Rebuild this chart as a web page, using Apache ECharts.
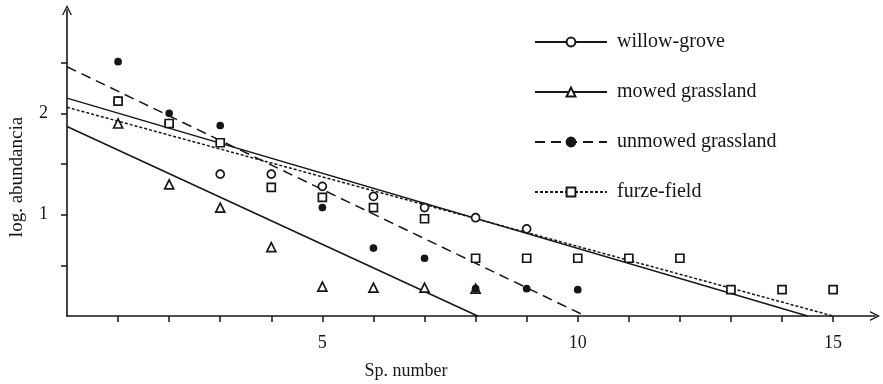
<!DOCTYPE html>
<html>
<head>
<meta charset="utf-8">
<script src="https://cdn.jsdelivr.net/npm/echarts@6/dist/echarts.min.js"></script>
<style>
html, body { margin: 0; padding: 0; background: #fff; }
#chart { width: 883px; height: 384px; }
</style>
</head>
<body>
<div id="chart"></div>
<script>
// species rank (x) and log abundance (y) per site
const willowX = [1, 2, 3, 4, 5, 6, 7, 8, 9];
const willowY = [2.12, 1.9, 1.4, 1.4, 1.28, 1.18, 1.07, 0.97, 0.86];

const mowedX = [1, 2, 3, 4, 5, 6, 7, 8];
const mowedY = [1.9, 1.3, 1.07, 0.68, 0.29, 0.28, 0.28, 0.27];

const unmowedX = [1, 2, 3, 4, 5, 6, 7, 8, 9, 10];
const unmowedY = [2.51, 2.0, 1.88, 1.27, 1.07, 0.67, 0.57, 0.27, 0.27, 0.26];

const furzeX = [1, 2, 3, 4, 5, 6, 7, 8, 9, 10, 11, 12, 13, 14, 15];
const furzeY = [2.12, 1.9, 1.71, 1.27, 1.17, 1.07, 0.96, 0.57, 0.57, 0.57, 0.57, 0.57, 0.26, 0.26, 0.26];

// fitted regression lines (start at x = 0, end on the x axis)
const willowFit = [[0, 2.15], [14.5, 0]];
const mowedFit = [[0, 1.87], [8.04, 0]];
const unmowedFit = [[0, 2.46], [10.15, 0]];
const furzeFit = [[0, 2.06], [15.0, 0]];

const names = ['willow-grove', 'mowed grassland', 'unmowed grassland', 'furze-field'];
const xTicks = [1, 2, 3, 4, 5, 6, 7, 8, 9, 10, 11, 12, 13, 14, 15];
const xLabels = [5, 10, 15];
const yTicks = [0.5, 1, 1.5, 2, 2.5];
const yLabels = [1, 2];

const zip = (xs, ys) => xs.map((x, i) => [x, ys[i]]);
const ink = '#161616';
const serif = 'Liberation Serif';
const chevron = 'path://M5,0 L10,10 L8.6,10 L5,2.8 L1.4,10 L0,10 Z';

function fitLine(name, data, type, symbol, fill) {
  return {
    name: name,
    type: 'line',
    data: data,
    symbol: symbol,
    showSymbol: false,
    silent: true,
    itemStyle: { color: fill, borderColor: ink, borderWidth: 1.5, opacity: 1 },
    lineStyle: { color: ink, width: 1.5, type: type },
    z: 2
  };
}

function points(name, data, symbol, fill, size) {
  return {
    name: name,
    type: 'scatter',
    data: data,
    symbol: symbol,
    symbolSize: size,
    itemStyle: { color: fill, borderColor: ink, borderWidth: 1.7, opacity: 1 },
    z: 3
  };
}

const chart = echarts.init(document.getElementById('chart'));
chart.setOption({
  backgroundColor: '#fff',
  animation: false,
  grid: { left: 67, right: 8, top: 10, bottom: 68, outerBoundsMode: 'none' },
  legend: {
    data: names,
    orient: 'vertical',
    left: 534,
    top: 32,
    padding: 0,
    itemWidth: 72,
    itemHeight: 11,
    itemGap: 30,
    textStyle: { fontFamily: serif, fontSize: 20, color: ink, padding: [0, 0, 0, 5] }
  },
  xAxis: {
    type: 'value',
    min: 0,
    max: 15.82,
    name: 'Sp. number',
    nameLocation: 'middle',
    nameGap: 46,
    nameTextStyle: { fontFamily: serif, fontSize: 18, color: ink, padding: [0, 130, 0, 0] },
    axisLine: {
      lineStyle: { color: ink, width: 1.6 },
      symbol: ['none', chevron],
      symbolSize: [10, 10]
    },
    axisTick: { customValues: xTicks, length: 6, lineStyle: { color: ink, width: 1.5 } },
    axisLabel: { customValues: xLabels, fontFamily: serif, fontSize: 18, color: ink, margin: 18 },
    splitLine: { show: false }
  },
  yAxis: {
    type: 'value',
    min: 0,
    max: 3.02,
    name: 'log. abundancia',
    nameLocation: 'middle',
    nameGap: 40,
    nameRotate: 90,
    nameTextStyle: { fontFamily: serif, fontSize: 19, color: ink, padding: [0, 28, 0, 0] },
    axisLine: {
      show: true,
      lineStyle: { color: ink, width: 1.6 },
      symbol: ['none', chevron],
      symbolSize: [10, 10]
    },
    axisTick: { show: true, customValues: yTicks, length: 6, lineStyle: { color: ink, width: 1.5 } },
    axisLabel: { customValues: yLabels, fontFamily: serif, fontSize: 18, color: ink, margin: 19 },
    splitLine: { show: false }
  },
  series: [
    fitLine(names[0], willowFit, 'solid', 'circle', '#fff'),
    fitLine(names[1], mowedFit, 'solid', 'triangle', '#fff'),
    fitLine(names[2], unmowedFit, [10, 6], 'circle', ink),
    fitLine(names[3], furzeFit, [3, 2], 'rect', '#fff'),
    points(names[0], zip(willowX, willowY), 'circle', '#fff', 8),
    points(names[1], zip(mowedX, mowedY), 'triangle', '#fff', 9),
    points(names[2], zip(unmowedX, unmowedY), 'circle', ink, 6),
    points(names[3], zip(furzeX, furzeY), 'rect', '#fff', 8)
  ]
});
</script>
</body>
</html>
